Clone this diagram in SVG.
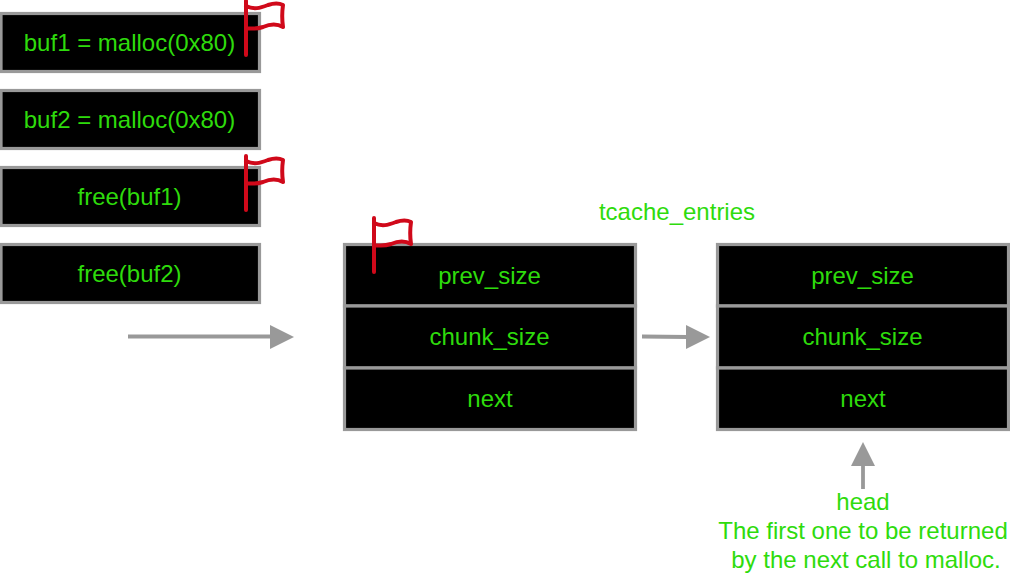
<svg xmlns="http://www.w3.org/2000/svg" width="1010" height="574" viewBox="0 0 1010 574">
<style>
.box{fill:#000;stroke:#999;stroke-width:3.2}
text{font-family:"Liberation Sans",Arial,sans-serif;font-size:24px;fill:#2edb0c;text-anchor:middle}
.cn{stroke:#999;stroke-width:3.8;fill:none}
.ah{fill:#999}
.flag{fill:none;stroke:#d0091a;stroke-width:4;stroke-linecap:round;stroke-linejoin:round}
</style>
<defs>
<g id="fl"><path class="flag" d="M0 0V54M0 5C8 9 14 7 22 4C28 2 33 2 37 4C36 11 36 19 37 26C30 22 24 23 17 26C11 28 6 28 0 27"/></g>
</defs>
<g id="n1"><rect class="box" x="1" y="13.500" width="258.500" height="58"/><text x="129.500" y="51">buf1 = malloc(0x80)</text></g>
<g id="n2"><rect class="box" x="1" y="90.500" width="258.500" height="58"/><text x="129.500" y="128">buf2 = malloc(0x80)</text></g>
<g id="n3"><rect class="box" x="1" y="167.500" width="258.500" height="58"/><text x="129.500" y="205">free(buf1)</text></g>
<g id="n4"><rect class="box" x="1" y="244.500" width="258.500" height="58"/><text x="129.500" y="282">free(buf2)</text></g>
<g id="chunk1">
<rect class="box" x="344.500" y="244.500" width="291" height="61.500"/><text x="489.500" y="284">prev_size</text>
<rect class="box" x="344.500" y="306" width="291" height="62"/><text x="489.500" y="345">chunk_size</text>
<rect class="box" x="344.500" y="368" width="291" height="61.500"/><text x="490" y="407">next</text>
</g>
<g id="chunk2">
<rect class="box" x="717.500" y="244.500" width="291" height="61.500"/><text x="862.500" y="284">prev_size</text>
<rect class="box" x="717.500" y="306" width="291" height="62"/><text x="862.500" y="345">chunk_size</text>
<rect class="box" x="717.500" y="368" width="291" height="61.500"/><text x="863" y="407">next</text>
</g>
<g id="connectors">
<path class="cn" d="M128 336.500H272"/><path class="ah" d="M270 325L294 337L270 349Z"/>
<path class="cn" d="M642 336.500L688 337"/><path class="ah" d="M686 325L710 337L686 349Z"/>
<path class="cn" d="M863 489V464"/><path class="ah" d="M851 466L863 442L875 466Z"/>
</g>
<g id="flags">
<use href="#fl" x="246" y="1"/>
<use href="#fl" x="246" y="156"/>
<use href="#fl" x="374" y="218"/>
</g>
<g id="labels">
<text x="677" y="220">tcache_entries</text>
<text x="863" y="510">head</text>
<text x="863" y="539">The first one to be returned</text>
<text x="866" y="568">by the next call to malloc.</text>
</g>
</svg>
